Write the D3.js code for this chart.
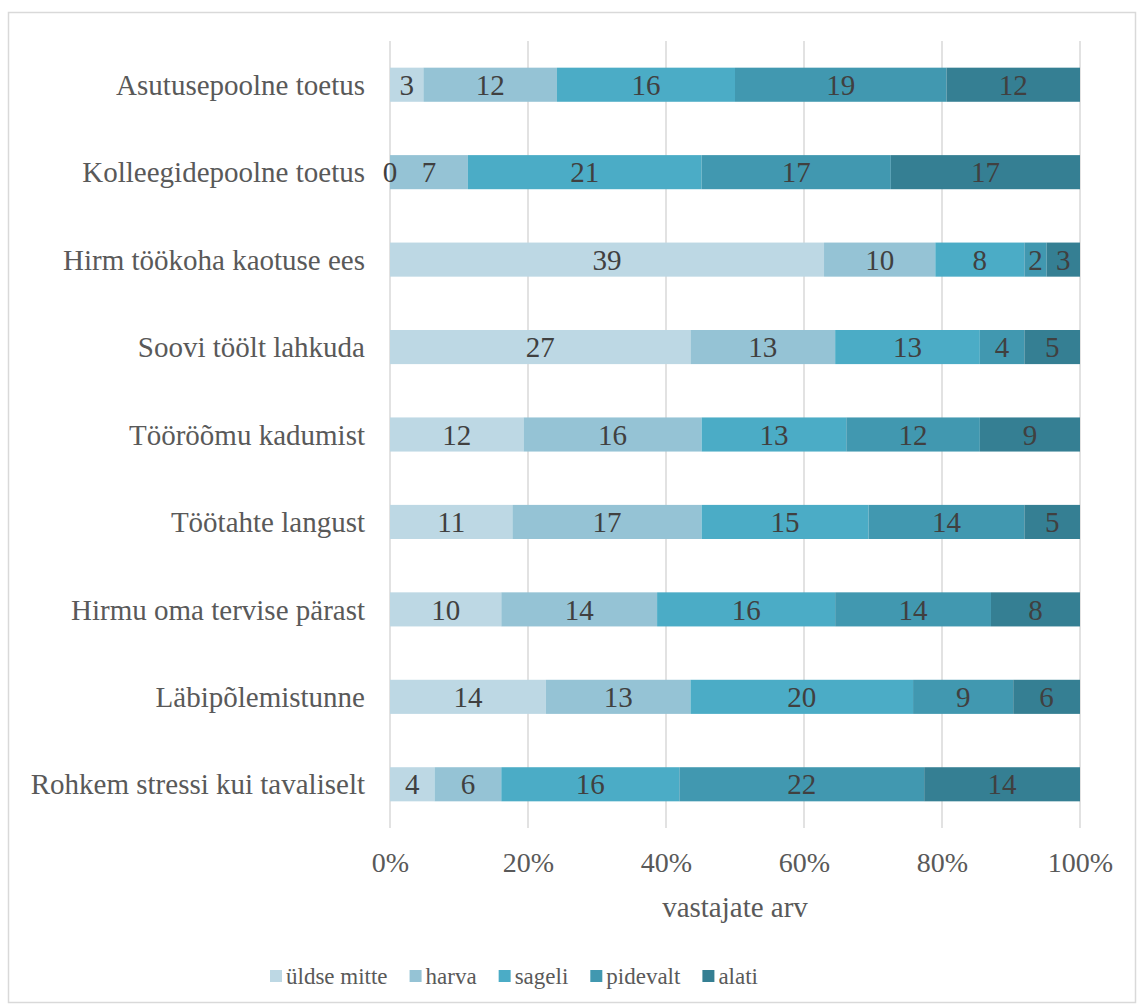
<!DOCTYPE html>
<html><head><meta charset="utf-8">
<script src="https://cdn.jsdelivr.net/npm/d3@7"></script>
<style>body{margin:0;background:#fff;}</style>
</head><body><svg id="c" width="1144" height="1007"></svg>
<script>
const FONT = "\"Liberation Serif\"";
const categories = ["Asutusepoolne toetus","Kolleegidepoolne toetus","Hirm töökoha kaotuse ees","Soovi töölt lahkuda","Tööröõmu kadumist","Töötahte langust","Hirmu oma tervise pärast","Läbipõlemistunne","Rohkem stressi kui tavaliselt"];
const seriesNames = ["üldse mitte","harva","sageli","pidevalt","alati"];
const uldseMitte = [3,0,39,27,12,11,10,14,4];
const harva = [12,7,10,13,16,17,14,13,6];
const sageli = [16,21,8,13,13,15,16,20,16];
const pidevalt = [19,17,2,4,12,14,14,9,22];
const alati = [12,17,3,5,9,5,8,6,14];
const tickLabels = ["0%","20%","40%","60%","80%","100%"];
const colors = ["#BDD8E4","#95C3D5","#4BACC6","#4198B0","#357F93"];

const seriesVals = [uldseMitte,harva,sageli,pidevalt,alati];
const rows = categories.map((c,i)=>{const o={cat:c}; seriesNames.forEach((s,j)=>o[s]=seriesVals[j][i]); return o;});
const svg = d3.select("#c").attr("font-family",FONT);
svg.append("rect").attr("x",8.5).attr("y",12.5).attr("width",1127).attr("height",990).attr("fill","#fff").attr("stroke","#d9d9d9").attr("stroke-width",1.5);

const x = d3.scaleLinear().domain([0,1]).range([390,1080]);
const y = d3.scaleBand().domain(categories).range([41,828]).paddingInner(0.61).paddingOuter(0.305);

const g = svg.append("g");
g.selectAll("line.grid").data(d3.range(0,1.01,0.2)).enter().append("line")
 .attr("x1",d=>x(d)).attr("x2",d=>x(d)).attr("y1",41).attr("y2",828)
 .attr("stroke","#d9d9d9").attr("stroke-width",1.5);

const stack = d3.stack().keys(seriesNames).offset(d3.stackOffsetExpand);
const layers = stack(rows);
layers.forEach((layer,li)=>{
  g.selectAll(null).data(layer).enter().append("rect")
   .attr("x",d=>x(d[0])).attr("width",d=>x(d[1])-x(d[0]))
   .attr("y",d=>y(d.data.cat)).attr("height",y.bandwidth())
   .attr("fill",colors[li]);
});
layers.forEach((layer,li)=>{
  g.selectAll(null).data(layer).enter().append("text")
   .attr("x",d=>(x(d[0])+x(d[1]))/2).attr("y",d=>y(d.data.cat)+y.bandwidth()/2)
   .attr("dy","0.35em").attr("text-anchor","middle").attr("font-size",29).attr("fill","#404040")
   .attr("font-family",FONT)
   .text(d=>d.data[seriesNames[li]]);
});

const xAxis = d3.axisBottom(x).tickValues(d3.range(0,1.01,0.2)).tickFormat((d,i)=>tickLabels[i]).tickSize(0).tickPadding(0);
const xa = svg.append("g").attr("transform","translate(0,862)").call(xAxis).attr("font-family",FONT);
xa.select(".domain").remove();
xa.selectAll("text").attr("font-size",28).attr("fill","#595959").attr("dy","0.35em").attr("y",0);

const yAxis = d3.axisLeft(y).tickSize(0).tickPadding(0);
const ya = svg.append("g").attr("transform","translate(365,0)").call(yAxis).attr("font-family",FONT);
ya.select(".domain").remove();
ya.selectAll("text").attr("font-size",29).attr("fill","#595959").attr("dy","0.35em");

svg.append("text").attr("x",735).attr("y",907).attr("dy","0.35em").attr("text-anchor","middle")
 .attr("font-size",29).attr("fill","#595959").attr("font-family",FONT).text("vastajate arv");

const lg = svg.append("g").attr("font-family",FONT);
let lx = 270;
seriesNames.forEach((s,i)=>{
  const item = lg.append("g").attr("transform",`translate(${lx},976)`);
  item.append("rect").attr("x",0).attr("y",-6).attr("width",12).attr("height",12).attr("fill",colors[i]);
  const t = item.append("text").attr("x",16).attr("dy","0.33em").attr("font-size",23).attr("fill","#595959").text(s);
  lx += 16 + t.node().getComputedTextLength() + 22;
});
</script></body></html>
